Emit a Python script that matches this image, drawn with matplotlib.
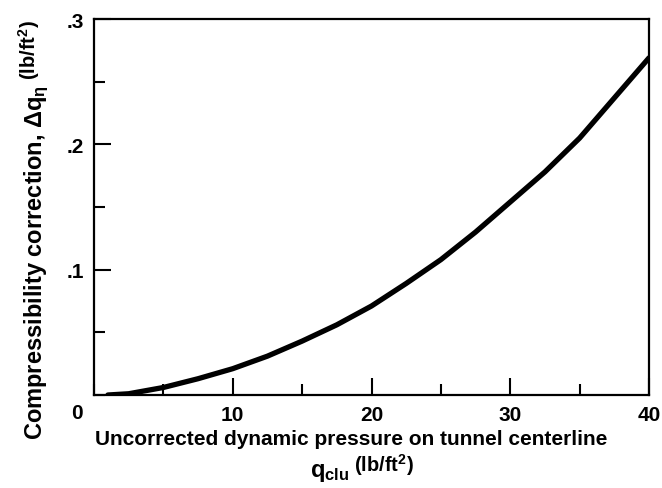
import matplotlib.pyplot as plt
from matplotlib.ticker import MultipleLocator

plt.rcParams['font.family'] = ['Liberation Sans', 'DejaVu Sans']
plt.rcParams['font.weight'] = 'bold'
plt.rcParams['mathtext.fontset'] = 'custom'
plt.rcParams['mathtext.rm'] = 'Liberation Sans:bold'
plt.rcParams['mathtext.it'] = 'Liberation Sans:bold'
plt.rcParams['mathtext.bf'] = 'Liberation Sans:bold'

# curve
q_clu = [1, 2.5, 5, 7.5, 10, 12.5, 15, 17.5, 20, 22.5, 25, 27.5, 30, 32.5, 35, 37.5, 40]
delta_q = [0.0, 0.001, 0.006, 0.013, 0.021, 0.031, 0.043, 0.056, 0.071, 0.089,
           0.108, 0.130, 0.154, 0.178, 0.205, 0.237, 0.269]

x_ticks = [10, 20, 30, 40]
y_ticks = [0.1, 0.2, 0.3]
y_tick_labels = ['.1', '.2', '.3']

W, H = 662, 489
fig = plt.figure(figsize=(W / 100, H / 100), dpi=100)
ax = fig.add_axes([94 / W, 93 / H, 555 / W, 376 / H])

ax.plot(q_clu, delta_q, color='black', lw=3.8, solid_capstyle='round',
        solid_joinstyle='round')

ax.set_xlim(0, 40)
ax.set_ylim(0, 0.3)
ax.set_xticks(x_ticks)
ax.set_xticklabels([str(t) for t in x_ticks])
ax.set_yticks(y_ticks)
ax.set_yticklabels(y_tick_labels)
ax.xaxis.set_minor_locator(MultipleLocator(5))
ax.yaxis.set_minor_locator(MultipleLocator(0.05))
ax.tick_params(which='major', direction='in', length=12, width=1.5,
               labelsize=15, pad=7)
ax.tick_params(which='minor', direction='in', length=8, width=1.5)
for s in ax.spines.values():
    s.set_linewidth(1.6)


def fx(px):
    return px / W


def fy(py):
    # pixel rows counted from the top
    return 1 - py / H


# shared origin label
fig.text(fx(77), fy(414), '0', ha='center', va='center', fontsize=15)

# x label, two lines; the units are set smaller and raised
fig.text(fx(351), fy(440), 'Uncorrected dynamic pressure on tunnel centerline',
         ha='center', va='center', fontsize=15)
renderer = fig.canvas.get_renderer()
q_txt = fig.text(0, fy(477), r'$q_{clu}$', ha='left', va='baseline', fontsize=17)
u_txt = fig.text(0, fy(472), r'(lb/ft$^2$)', ha='left', va='baseline', fontsize=14.5)
wq = q_txt.get_window_extent(renderer).width
wu = u_txt.get_window_extent(renderer).width
x0 = 362 - (wq + 4 + wu) / 2
q_txt.set_x(fx(x0))
u_txt.set_x(fx(x0 + wq + 4))

# y label, rotated, built the same way
y_main = fig.text(fx(42), fy(440), r'Compressibility correction, $\Delta q_\eta$',
                  rotation=90, rotation_mode='anchor', ha='left', va='baseline',
                  fontsize=17)
hm = y_main.get_window_extent(renderer).height
fig.text(fx(36), fy(440 - hm - 5), r'(lb/ft$^2$)', rotation=90,
         rotation_mode='anchor', ha='left', va='baseline', fontsize=14.5)

fig.savefig('out.png', dpi=100)
